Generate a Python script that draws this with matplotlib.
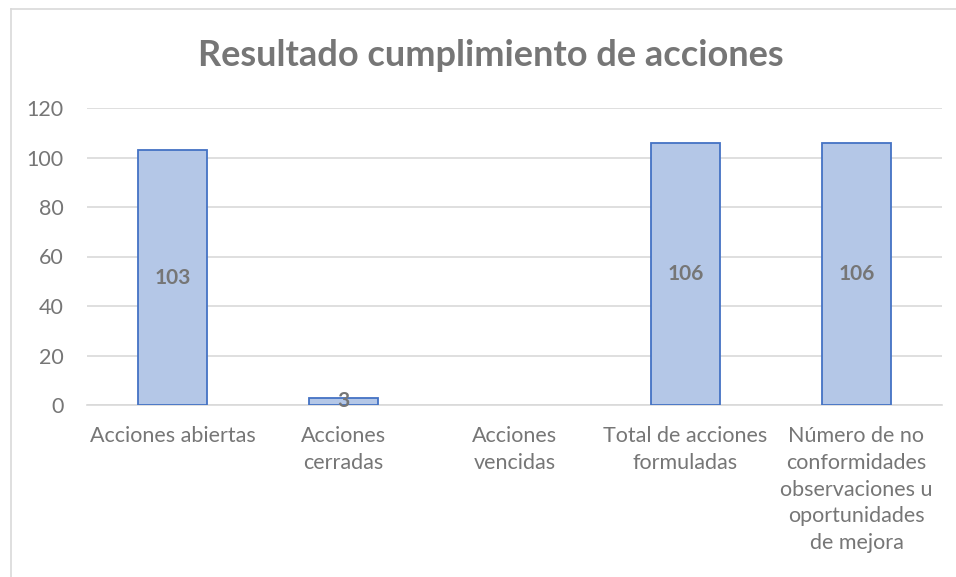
import matplotlib.pyplot as plt
import matplotlib.lines as mlines
import numpy as np

# Chart data
categories = ['Acciones abiertas', 'Acciones\ncerradas', 'Acciones\nvencidas',
              'Total de acciones\nformuladas',
              'Número de no\nconformidades\nobservaciones u\noportunidades\nde mejora']
values = [103, 3, np.nan, 106, 106]
y_ticks = [0, 20, 40, 60, 80, 100, 120]
title = 'Resultado cumplimiento de acciones'

plt.rcParams['font.family'] = ['Lato', 'DejaVu Sans']
text_gray = '#767676'

fig = plt.figure(figsize=(9.56, 5.77), dpi=100)
area = fig.add_axes([87 / 956, 1 - 405 / 577, (942 - 87) / 956, (405 - 108) / 577])

x = np.arange(len(categories))
vals = np.array(values, dtype=float)
shown = ~np.isnan(vals)
area.bar(x[shown], vals[shown], width=0.4, color='#B4C7E7',
         edgecolor='#4472C4', linewidth=1.3, zorder=3)

# Data labels centered in bars (skip empty)
for xi, v in zip(x[shown], vals[shown]):
    area.text(xi, v / 2, '{}'.format(int(v)), ha='center', va='center',
              fontsize=15, fontweight='bold', color=text_gray, zorder=4)

area.set_xlim(-0.5, len(categories) - 0.5)
area.set_ylim(0, 120)
area.set_yticks(y_ticks)
area.set_xticks(x)
area.set_xticklabels(categories, linespacing=1.43)
area.tick_params(axis='y', length=0, pad=17, labelsize=15.5, labelcolor=text_gray)
area.tick_params(axis='x', length=0, pad=15, labelsize=15.5, labelcolor=text_gray)
area.yaxis.grid(True, color='#D9D9D9', linewidth=1.2, zorder=0)
area.set_axisbelow(True)
for side in ['top', 'right', 'left']:
    area.spines[side].set_visible(False)
area.spines['bottom'].set_color('#D9D9D9')
area.spines['bottom'].set_linewidth(1.2)

fig.text(491 / 956, 1 - 55 / 577, title, ha='center', va='center',
         fontsize=26, fontweight='bold', color=text_gray)

# Chart area border (left and top edges visible)
fig.add_artist(mlines.Line2D([11 / 956, 11 / 956], [0, 1 - 9 / 577],
                             transform=fig.transFigure, color='#D9D9D9', linewidth=1.2))
fig.add_artist(mlines.Line2D([11 / 956, 1], [1 - 9 / 577, 1 - 9 / 577],
                             transform=fig.transFigure, color='#D9D9D9', linewidth=1.2))

fig.savefig('out.png', dpi=100)
